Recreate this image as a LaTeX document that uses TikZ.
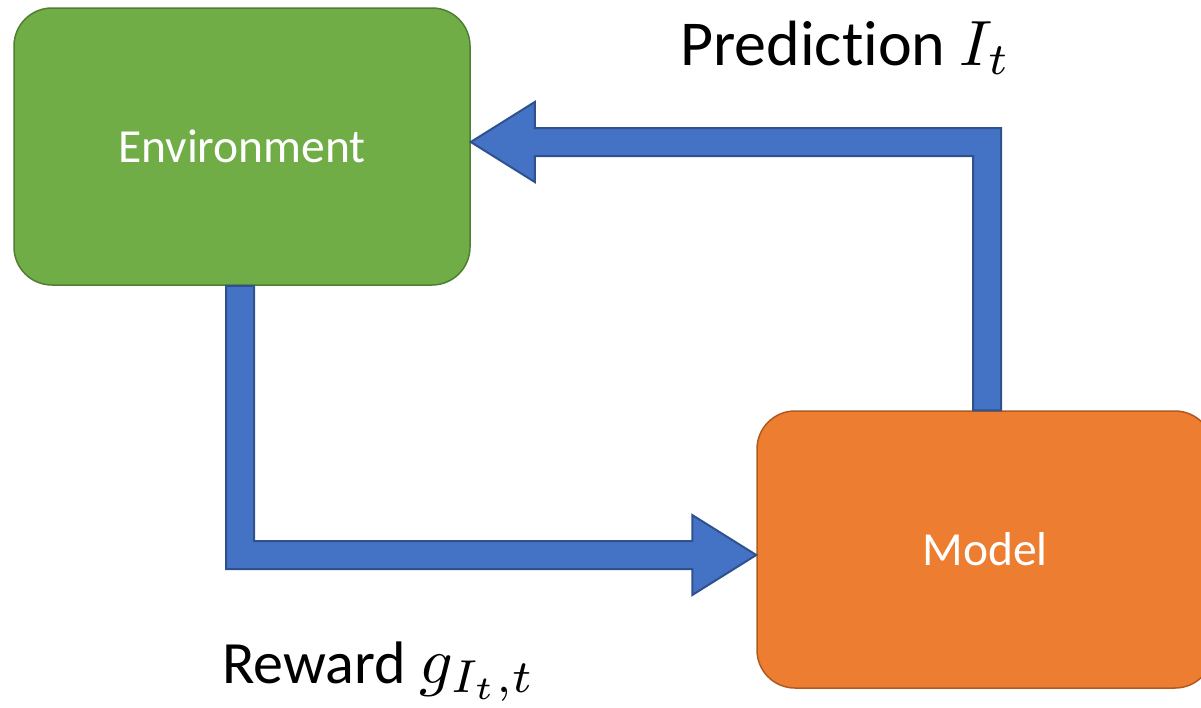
\documentclass[tikz,border=0pt]{standalone}
\usepackage{fontspec}
\setmainfont{Carlito}[Ligatures=NoCommon]
\usetikzlibrary{calc}
\definecolor{envfill}{HTML}{70AD47}
\definecolor{envline}{HTML}{507E32}
\definecolor{modfill}{HTML}{ED7D31}
\definecolor{modline}{HTML}{AE5A21}
\definecolor{arrfill}{HTML}{4472C4}
\definecolor{arrline}{HTML}{2F528F}
% math at large sizes: scale a 10pt formula
\newcommand{\bigmath}[2]{\scalebox{#1}{\fontsize{10}{12}\selectfont$#2$}}
\tikzset{
  box/.style={rounded corners=38pt, minimum width=456pt, minimum height=277pt,
    inner sep=0pt, text=white, font=\fontsize{47.5}{56}\selectfont, line width=1.5pt},
  envbox/.style={box, fill=envfill, draw=envline},
  modelbox/.style={box, fill=modfill, draw=modline},
  blockarrow/.style={fill=arrfill, draw=arrline, line width=2pt, line join=miter},
  label/.style={anchor=base west, inner sep=0pt, text=black}
}
\begin{document}
\begin{tikzpicture}[x=1pt, y=-1pt]
  \useasboundingbox (0,0) rectangle (1201,707);
  \clip (0,0) rectangle (1201,707);

  % the two blocks
  \node[envbox] (env) at (242,146.5) {Environment};
  \node[modelbox] (model) at (985,549.5) {Model};

  % feedback arrow: model -> environment
  \coordinate (tipA) at (env.east |- 0,142);
  \coordinate (baseA) at (987,0 |- model.north);
  \draw[blockarrow]
    ($(baseA)+(-14,0)$) -- ($(baseA |- tipA)+(-14,14)$)
    -- ($(tipA)+(64,14)$) -- ($(tipA)+(64,40)$) -- (tipA)
    -- ($(tipA)+(64,-40)$) -- ($(tipA)+(64,-14)$)
    -- ($(baseA |- tipA)+(14,-14)$) -- ($(baseA)+(14,0)$) -- cycle;

  % reward arrow: environment -> model
  \coordinate (baseB) at (240,0 |- env.south);
  \coordinate (tipB) at (model.west |- 0,555);
  \draw[blockarrow]
    ($(baseB)+(-14,0)$) -- ($(baseB |- tipB)+(-14,14)$)
    -- ($(tipB)+(-64,14)$) -- ($(tipB)+(-64,40)$) -- (tipB)
    -- ($(tipB)+(-64,-40)$) -- ($(tipB)+(-64,-14)$)
    -- ($(baseB |- tipB)+(14,-14)$) -- ($(baseB)+(14,0)$) -- cycle;

  % labels
  \node[label, font=\fontsize{64}{72}\selectfont] (pred) at (680,65)
    {Prediction \bigmath{6.4}{I_t}};
  \node[label, font=\fontsize{60}{70}\selectfont] (rew) at (222,683)
    {Reward \bigmath{6.6}{g_{I_t,t}}};
\end{tikzpicture}
\end{document}
